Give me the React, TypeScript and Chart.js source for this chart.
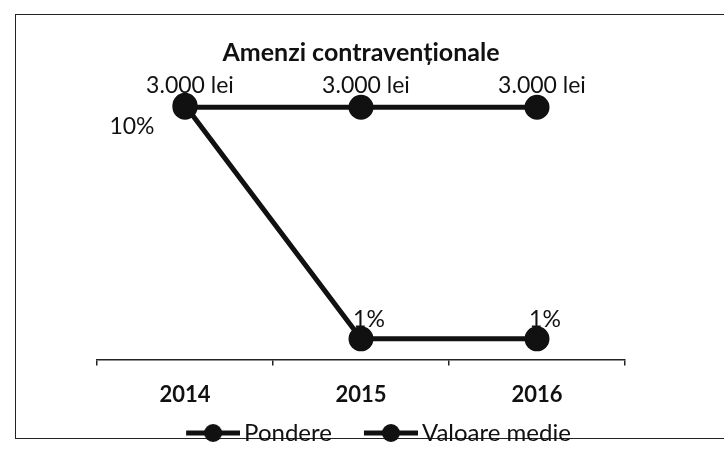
import { useEffect, useRef } from 'react';
import { Chart, registerables } from 'chart.js';
Chart.register(...registerables);

const FONT = 'Lato, "Open Sans", sans-serif';

const titleText = 'Amenzi contravenționale';
const categories = ['2014', '2015', '2016'];
const seriesNames = ['Pondere', 'Valoare medie'];
const pondere = [10, 1, 1];
const valoareMedie = [3000, 3000, 3000];

function fmtLei(v: number) {
  return v.toString().replace(/\B(?=(\d{3})+(?!\d))/g, '.') + ' lei';
}

// legend marker: line with a dot, drawn in the right part of a wider canvas
function makeLegendIcon() {
  const c = document.createElement('canvas');
  c.width = 97;
  c.height = 22;
  const ctx = c.getContext('2d')!;
  ctx.strokeStyle = '#111';
  ctx.lineWidth = 5;
  ctx.beginPath();
  ctx.moveTo(43, 11);
  ctx.lineTo(97, 11);
  ctx.stroke();
  ctx.fillStyle = '#111';
  ctx.beginPath();
  ctx.arc(70, 11, 9, 0, Math.PI * 2);
  ctx.fill();
  return c;
}

const dataLabels = {
  id: 'dataLabels',
  afterDatasetsDraw(chart: any) {
    const ctx = chart.ctx;
    ctx.save();
    ctx.fillStyle = '#111';
    ctx.font = `23px ${FONT}`;
    ctx.textAlign = 'center';
    ctx.textBaseline = 'middle';
    chart.data.datasets.forEach((ds: any, di: number) => {
      const meta = chart.getDatasetMeta(di);
      meta.data.forEach((pt: any, i: number) => {
        const v = ds.data[i];
        if (di === 1) {
          ctx.fillText(fmtLei(v), pt.x + 5, pt.y - 22);
        } else if (i === 0) {
          ctx.fillText(v + '%', pt.x - 53, pt.y + 21);
        } else {
          ctx.fillText(v + '%', pt.x + 8, pt.y - 19);
        }
      });
    });
    ctx.restore();
  },
};

export default function App() {
  const ref = useRef<HTMLCanvasElement>(null);
  useEffect(() => {
    if (!ref.current) return;
    const icon = makeLegendIcon();
    const chart = new Chart(ref.current, {
      type: 'line',
      data: {
        labels: categories,
        datasets: [
          {
            label: seriesNames[0],
            data: pondere,
            yAxisID: 'y',
            borderColor: '#111',
            backgroundColor: '#111',
            borderWidth: 5,
            pointRadius: 10,
            pointBackgroundColor: '#111',
            pointBorderColor: '#111',
          },
          {
            label: seriesNames[1],
            data: valoareMedie,
            yAxisID: 'y1',
            borderColor: '#111',
            backgroundColor: '#111',
            borderWidth: 5,
            pointRadius: 10,
            pointBackgroundColor: '#111',
            pointBorderColor: '#111',
          },
        ],
      },
      options: {
        responsive: false,
        animation: false,
        layout: { padding: { left: 97, right: 99, top: 0, bottom: 0 } },
        plugins: {
          title: {
            display: true,
            text: titleText,
            color: '#111',
            font: { family: FONT, size: 25, weight: 'bold' },
            padding: { top: 38, bottom: 14 },
          },
          legend: {
            position: 'bottom',
            labels: {
              usePointStyle: true,
              pointStyle: icon as any,
              pointStyleWidth: 81,
              color: '#111',
              font: { family: FONT, size: 24 },
              padding: -3,
            },
          },
          tooltip: { enabled: false },
        },
        scales: {
          x: {
            offset: true,
            grid: {
              display: true,
              drawOnChartArea: false,
              drawTicks: true,
              tickLength: 6,
              color: '#222',
              lineWidth: 1.5,
              offset: true,
            },
            border: { display: true, color: '#222', width: 1.5 },
            ticks: {
              color: '#111',
              font: { family: FONT, size: 22, weight: 'bold' },
              padding: 16,
            },
          },
          y: { display: false, min: 0.2, max: 10.9 },
          y1: { display: false, min: 0, max: 3300 },
        },
      },
      plugins: [dataLabels],
    });
    return () => chart.destroy();
  }, []);

  return (
    <div
      style={{
        position: 'absolute',
        left: 0,
        top: 0,
        width: 724,
        height: 451,
        background: '#fff',
        overflow: 'hidden',
      }}
    >
      <div
        style={{
          position: 'absolute',
          left: 15,
          top: 14,
          width: 720,
          height: 425,
          border: '1.5px solid #222',
          borderRight: 'none',
          boxSizing: 'border-box',
        }}
      />
      <canvas
        ref={ref}
        width={724}
        height={455}
        style={{ position: 'absolute', left: 0, top: 0, width: 724, height: 455 }}
      />
    </div>
  );
}
